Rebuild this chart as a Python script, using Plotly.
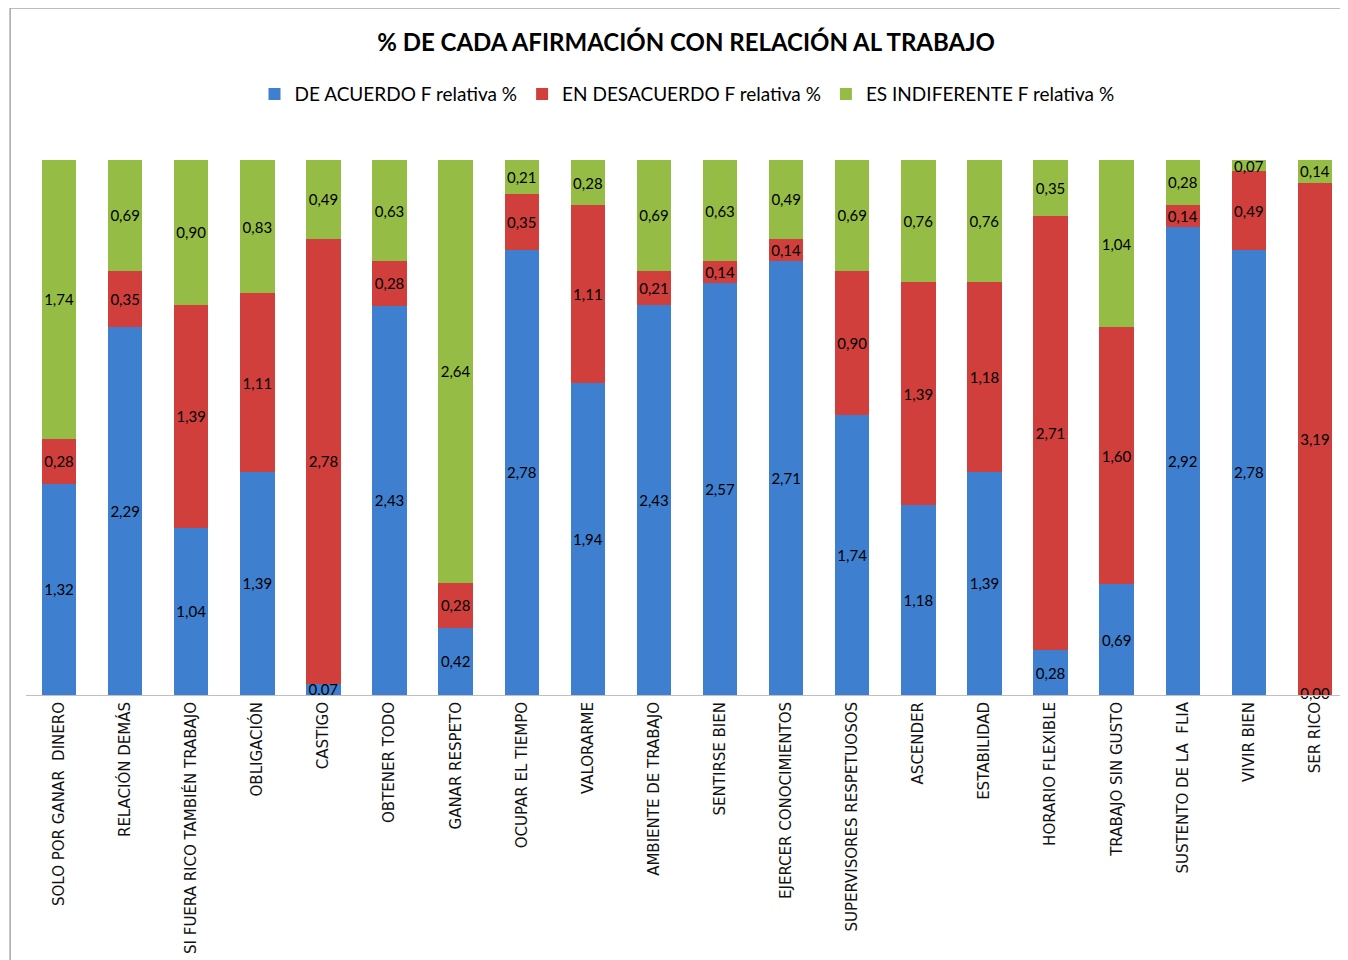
"""
Stacked bar chart: % de cada afirmación con relación al trabajo.
"""
import plotly.graph_objects as go

categories = [
    "SOLO POR GANAR  DINERO", "RELACIÓN DEMÁS", "SI FUERA RICO TAMBIÉN TRABAJO",
    "OBLIGACIÓN", "CASTIGO", "OBTENER TODO", "GANAR RESPETO", "OCUPAR EL TIEMPO",
    "VALORARME", "AMBIENTE DE TRABAJO", "SENTIRSE BIEN", "EJERCER CONOCIMIENTOS",
    "SUPERVISORES RESPETUOSOS", "ASCENDER", "ESTABILIDAD", "HORARIO FLEXIBLE",
    "TRABAJO SIN GUSTO", "SUSTENTO DE LA  FLIA", "VIVIR BIEN", "SER RICO",
]
de_acuerdo = [1.32, 2.29, 1.04, 1.39, 0.07, 2.43, 0.42, 2.78, 1.94, 2.43,
              2.57, 2.71, 1.74, 1.18, 1.39, 0.28, 0.69, 2.92, 2.78, 0.00]
en_desacuerdo = [0.28, 0.35, 1.39, 1.11, 2.78, 0.28, 0.28, 0.35, 1.11, 0.21,
                 0.14, 0.14, 0.90, 1.39, 1.18, 2.71, 1.60, 0.14, 0.49, 3.19]
es_indiferente = [1.74, 0.69, 0.90, 0.83, 0.49, 0.63, 2.64, 0.21, 0.28, 0.69,
                  0.63, 0.49, 0.69, 0.76, 0.76, 0.35, 1.04, 0.28, 0.07, 0.14]

series = [
    ("DE ACUERDO F relativa %", de_acuerdo, "#3F7FCF"),
    ("EN DESACUERDO F relativa %", en_desacuerdo, "#D03F3C"),
    ("ES INDIFERENTE F relativa %", es_indiferente, "#95BD45"),
]

label_font = "Lato, Open Sans, sans-serif"


def fmt(v):
    return f"{v:.2f}".replace(".", ",")


fig = go.Figure()
for name, values, color in series:
    fig.add_trace(go.Bar(
        name=name,
        x=categories,
        y=values,
        marker=dict(color=color, line=dict(width=0)),
        text=[fmt(v) for v in values],
        textposition="inside",
        insidetextanchor="middle",
        textangle=0,
        constraintext="none",
        textfont=dict(family=label_font, size=15, color="#000000"),
    ))

# zero-height segments get no bar text, so label them at the baseline
zero_x = [c for c, v in zip(categories, de_acuerdo) if v == 0]
zero_y = [v for v in de_acuerdo if v == 0]
fig.add_trace(go.Scatter(
    x=zero_x, y=zero_y, mode="text",
    text=[fmt(v) for v in zero_y], textposition="middle center",
    textfont=dict(family=label_font, size=15, color="#000000"),
    showlegend=False, hoverinfo="skip", cliponaxis=False,
))

fig.update_layout(
    barmode="stack",
    barnorm="fraction",
    bargap=0.48,
    width=1340,
    height=952,
    margin=dict(l=18, r=0, t=152, b=265),
    paper_bgcolor="white",
    plot_bgcolor="white",
    uniformtext=dict(mode="show", minsize=15),
    title=dict(
        text="<b>% DE CADA AFIRMACIÓN CON RELACIÓN AL TRABAJO</b>",
        x=0.506, xanchor="center", y=0.964, yanchor="middle",
        font=dict(family=label_font, size=24, color="#000000"),
    ),
    legend=dict(
        orientation="h", x=0.5, xanchor="center", y=1.123, yanchor="middle",
        font=dict(family=label_font, size=19, color="#000000"),
        itemwidth=30, traceorder="normal",
    ),
    xaxis=dict(
        range=[-0.5, len(categories) - 0.5],
        tickangle=-90,
        tickfont=dict(family="DejaVu Sans, Verdana, sans-serif", size=15, color="#111111"),
        showline=True, linecolor="#BFBFBF", linewidth=1,
        ticks="", showgrid=False,
    ),
    # a hair above 1 so float sums of the normalised stacks stay inside the range
    yaxis=dict(visible=False, range=[0, 1.0001]),
    shapes=[dict(
        type="rect", xref="paper", yref="paper",
        x0=-0.012, x1=1.05, y0=-0.6, y1=1.284,
        line=dict(color="#A6A6A6", width=1.5),
    )],
)

fig.write_html("out.html")
